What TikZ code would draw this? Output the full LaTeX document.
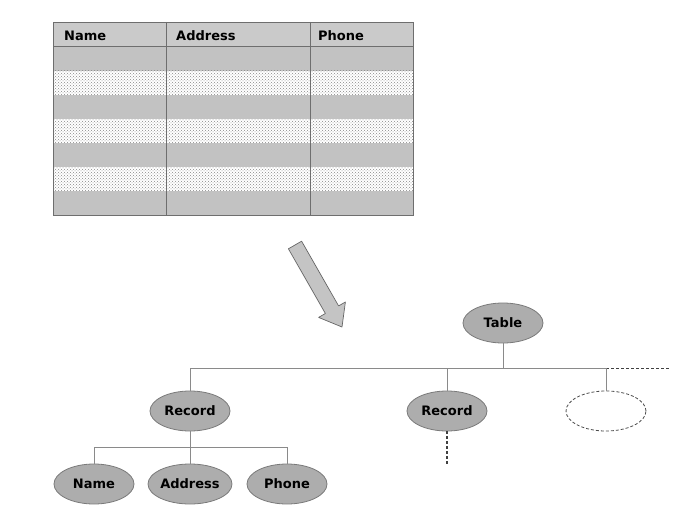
\documentclass[tikz,border=0pt]{standalone}
\usepackage{fontspec}
\setmainfont{DejaVu Sans}
\usetikzlibrary{patterns,shapes.geometric}
\definecolor{rowgray}{HTML}{C2C2C2}
\definecolor{headgray}{HTML}{CACACA}
\definecolor{gridline}{HTML}{6E6E6E}
\definecolor{ovalgray}{HTML}{ADADAD}
\definecolor{edgegray}{HTML}{7A7A7A}
\definecolor{linegray}{HTML}{8A8A8A}
\definecolor{arrowfill}{HTML}{C4C4C4}
\begin{document}
\begin{tikzpicture}[x=1pt,y=-1pt,
  lbl/.style={font=\fontsize{13}{15}\selectfont\bfseries, text=black},
  oval/.style={ellipse, draw=edgegray, fill=ovalgray, minimum width=80pt, minimum height=40pt, inner sep=0pt, line width=0.8pt, lbl},
  emptyoval/.style={ellipse, draw=black!70, dash pattern=on 3pt off 2pt, minimum width=80pt, minimum height=40pt, inner sep=0pt, line width=0.8pt},
  link/.style={draw=linegray, line width=0.8pt},
  dashlink/.style={draw=black!75, dash pattern=on 3pt off 2pt},
  grayrow/.style={fill=rowgray},
  dotrow/.style={pattern=crosshatch dots, pattern color=gray!95}]
\useasboundingbox (0,0) rectangle (696,519);
% table
\fill[headgray] (53,22) rectangle (413,47);
\foreach \i/\s in {0/grayrow,1/dotrow,2/grayrow,3/dotrow,4/grayrow,5/dotrow,6/grayrow}{
  \path[\s] (53,{47+24*\i}) rectangle (413,{71+24*\i});
}
\draw[gridline, line width=0.9pt] (53,22) rectangle (413,215);
\draw[gridline, line width=1pt] (53,47) -- (413,47);
\draw[gridline, line width=1pt] (166,22) -- (166,215);
\draw[gridline, line width=1pt] (310,22) -- (310,215);
\node[lbl, anchor=west, inner sep=0pt] (hname) at (64,36) {Name};
\node[lbl, anchor=west, inner sep=0pt] (haddr) at (176,36) {Address};
\node[lbl, anchor=west, inner sep=0pt] (hphone) at (318,36) {Phone};
% arrow
\filldraw[fill=arrowfill, draw=gray!80!black, line width=0.7pt, line join=round]
  (301.6,241.2) -- (338.6,305.9) -- (345.4,302.0) -- (342,327) -- (318.6,317.4)
  -- (325.4,313.5) -- (288.4,248.8) -- cycle;
% tree
\node[oval] (table) at (503,323) {Table};
\node[oval] (rec1) at (190,411) {Record};
\node[oval] (rec2) at (447,411) {Record};
\node[emptyoval] (empty) at (606,411) {};
\node[oval] (name) at (94,484) {Name};
\node[oval] (addr) at (190,484) {Address};
\node[oval] (phone) at (287,484) {Phone};
\coordinate (hl) at (190,368);
\coordinate (hr) at (606,368);
\coordinate (hend) at (670,368);
\coordinate (sub) at (94,447);
\coordinate (recdown) at (447,464);
\draw[link] (table.south) -- (table.south |- hl);
\draw[link] (hl) -- (hr);
\draw[dashlink, line width=1pt] (hr) -- (hend);
\draw[link] (hl) -- (rec1.north);
\draw[link] (rec2.north |- hl) -- (rec2.north);
\draw[link] (hr) -- (empty.north);
\draw[dashlink, line width=1.3pt] (rec2.south) -- (recdown);
\draw[link] (rec1.south) -- (rec1.south |- sub);
\draw[link] (sub) -- (phone.north |- sub);
\draw[link] (sub) -- (name.north);
\draw[link] (addr.north |- sub) -- (addr.north);
\draw[link] (phone.north |- sub) -- (phone.north);
\end{tikzpicture}
\end{document}
